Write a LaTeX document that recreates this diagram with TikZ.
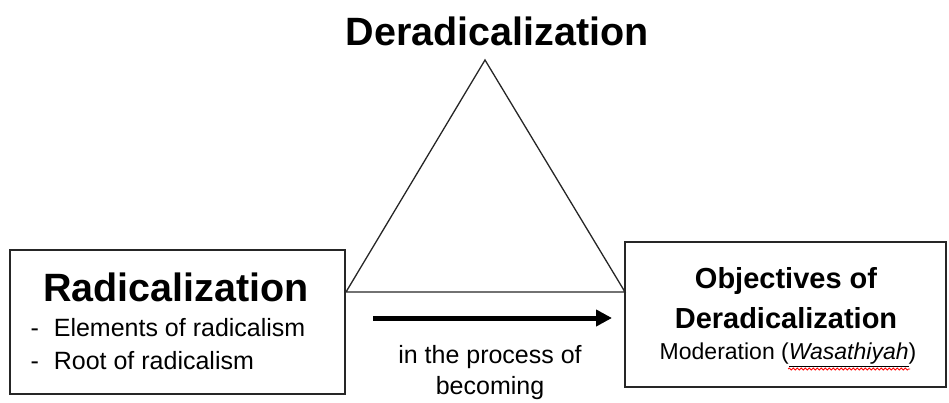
\documentclass[tikz,border=0pt]{standalone}
\usepackage{fontspec}
\setmainfont{Liberation Sans}
\usetikzlibrary{arrows.meta,decorations.pathmorphing}
\tikzset{
  box/.style={draw=black!85, line width=1.6pt, inner sep=0pt},
  tri/.style={draw=black!85, line width=1.3pt, line join=miter},
  flow/.style={line width=5pt, -{Triangle[length=16pt,width=16pt]}},
  big/.style={font=\fontsize{39.5}{44}\selectfont\bfseries},
  mid/.style={font=\fontsize{29}{34}\selectfont\bfseries},
  small/.style={font=\fontsize{25}{30}\selectfont},
  smaller/.style={font=\fontsize{23}{30}\selectfont},
}
\begin{document}
\begin{tikzpicture}[x=1pt,y=-1pt]
\useasboundingbox (0,0) rectangle (949,403);
% boxes
\node[box, minimum width=335pt, minimum height=144pt] (left) at (177.5,322) {};
\node[box, minimum width=321pt, minimum height=145pt] (right) at (785.5,314.5) {};
% triangle
\coordinate (apex) at (485,60);
\coordinate (bl) at (346,292);
\coordinate (br) at (625,292);
\draw[tri] (bl) -- (apex) -- (br) -- cycle;
% title
\node[big] (title) at (497,31) {Deradicalization};
% left texts
\node[big] (rad) at (176,287) {Radicalization};
\node[small, anchor=west] (el1) at (27,328) {-\hspace{15pt}Elements of radicalism};
\node[small, anchor=west] (el2) at (27,361) {-\hspace{15pt}Root of radicalism};
% right texts
\node[mid] (obj1) at (786,281) {Objectives of};
\node[mid] (obj2) at (786,318) {Deradicalization};
\node[smaller] (mod) at (788,355) {Moderation (\underline{\textit{Wasathiyah}})};
\draw[red, line width=0.8pt, decorate, decoration={snake, amplitude=1pt, segment length=4pt}] (788,369) -- (910,369);
% arrow
\coordinate (a1) at (373,318);
\coordinate (a2) at (612,318);
\draw[flow] (a1) -- (a2);
\node[small] (proc1) at (490,357) {in the process of};
\node[small] (proc2) at (490,388) {becoming};
\end{tikzpicture}
\end{document}
